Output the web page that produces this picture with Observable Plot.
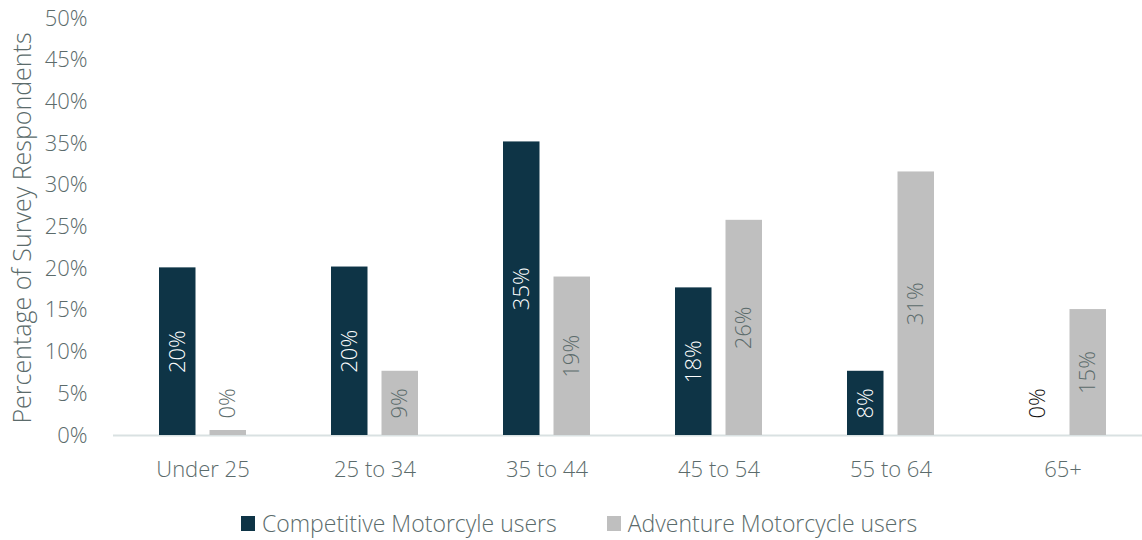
<!DOCTYPE html>
<html>
<head>
<meta charset="utf-8">
<script src="https://cdn.jsdelivr.net/npm/d3@7"></script>
<script src="https://cdn.jsdelivr.net/npm/@observablehq/plot@0.6"></script>
<style>
  html, body { margin: 0; padding: 0; background: #fff; }
  body { width: 1142px; height: 540px; overflow: hidden; font-family: "Open Sans", sans-serif; font-weight: 300; }
  #chart { position: relative; }
  #legend { position: absolute; left: 241px; top: 507px; display: flex; font-size: 23px; color: #5b6b6b; white-space: nowrap; }
  .item { display: flex; align-items: center; }
  .item + .item { margin-left: 50px; }
  .sw { width: 14px; height: 15px; margin-right: 7px; }
</style>
</head>
<body>
<div id="chart"></div>
<div id="legend"></div>
<script>
const categories = ["Under 25", "25 to 34", "35 to 44", "45 to 54", "55 to 64", "65+"];
const seriesNames = ["Competitive Motorcyle users", "Adventure Motorcycle users"];
const competitive = [20.1, 20.2, 35.2, 17.7, 7.7, 0];
const adventure = [0.6, 7.7, 19.0, 25.8, 31.6, 15.1];
const competitiveLabels = ["20%", "20%", "35%", "18%", "8%", "0%"];
const adventureLabels = ["0%", "9%", "19%", "26%", "31%", "15%"];
const yTicks = [0, 5, 10, 15, 20, 25, 30, 35, 40, 45, 50];
const colors = ["#0e3446", "#bfbfbf"];

const comp = categories.map((c, i) => ({age: c, value: competitive[i], label: competitiveLabels[i]}));
const adv = categories.map((c, i) => ({age: c, value: adventure[i], label: adventureLabels[i]}));

const font = "\"Open Sans\", sans-serif";
const textGrey = "#5b6b6b";

const chart = Plot.plot({
  width: 1142,
  height: 490,
  marginTop: 18,
  marginBottom: 55,
  marginLeft: 113,
  marginRight: 0,
  style: {fontFamily: font, fontSize: "22px", fontWeight: 300, color: textGrey, background: "#fff", overflow: "hidden"},
  x: {domain: categories, range: [113, 1151.5], paddingInner: 0.493, paddingOuter: 0.2565, label: null},
  y: {domain: [0, 50], label: null},
  marks: [
    Plot.ruleY([0], {stroke: "#d9e1e2", strokeWidth: 2}),
    Plot.barY(comp, {x: "age", y: "value", fill: colors[0], insetRight: 50.5}),
    Plot.barY(adv, {x: "age", y: "value", fill: colors[1], insetLeft: 50.5}),
    Plot.text(comp.filter(d => d.value > 0), {x: "age", y: d => d.value / 2, text: "label", rotate: -90, dx: -25.25, fill: "#ffffff", fontSize: 22}),
    Plot.text(adv.filter(d => d.value > 1), {x: "age", y: d => d.value / 2, text: "label", rotate: -90, dx: 25.25, fill: textGrey, fontSize: 22}),
    Plot.text(comp.filter(d => d.value === 0), {x: "age", y: 0, text: "label", rotate: -90, dx: -25.25, dy: -17, textAnchor: "start", fill: "#111111", fontSize: 22}),
    Plot.text(adv.filter(d => d.value <= 1), {x: "age", y: 0, text: "label", rotate: -90, dx: 25.25, dy: -17, textAnchor: "start", fill: textGrey, fontSize: 22}),
    Plot.axisY({ticks: yTicks, tickSize: 0, tickPadding: 26, tickFormat: d => d + "%", fontSize: 22, label: null}),
    Plot.axisX({tickSize: 0, tickPadding: 26, fontSize: 22, label: null}),
    Plot.text(["Percentage of Survey Respondents"], {frameAnchor: "left", textAnchor: "middle", rotate: -90, dx: -91, dy: 1, fill: textGrey, fontSize: 25})
  ]
});
document.getElementById("chart").appendChild(chart);

const legend = document.getElementById("legend");
seriesNames.forEach((name, i) => {
  const item = document.createElement("div");
  item.className = "item";
  const sw = document.createElement("span");
  sw.className = "sw";
  sw.style.background = colors[i];
  const t = document.createElement("span");
  t.textContent = name;
  item.appendChild(sw);
  item.appendChild(t);
  legend.appendChild(item);
});
</script>
</body>
</html>
